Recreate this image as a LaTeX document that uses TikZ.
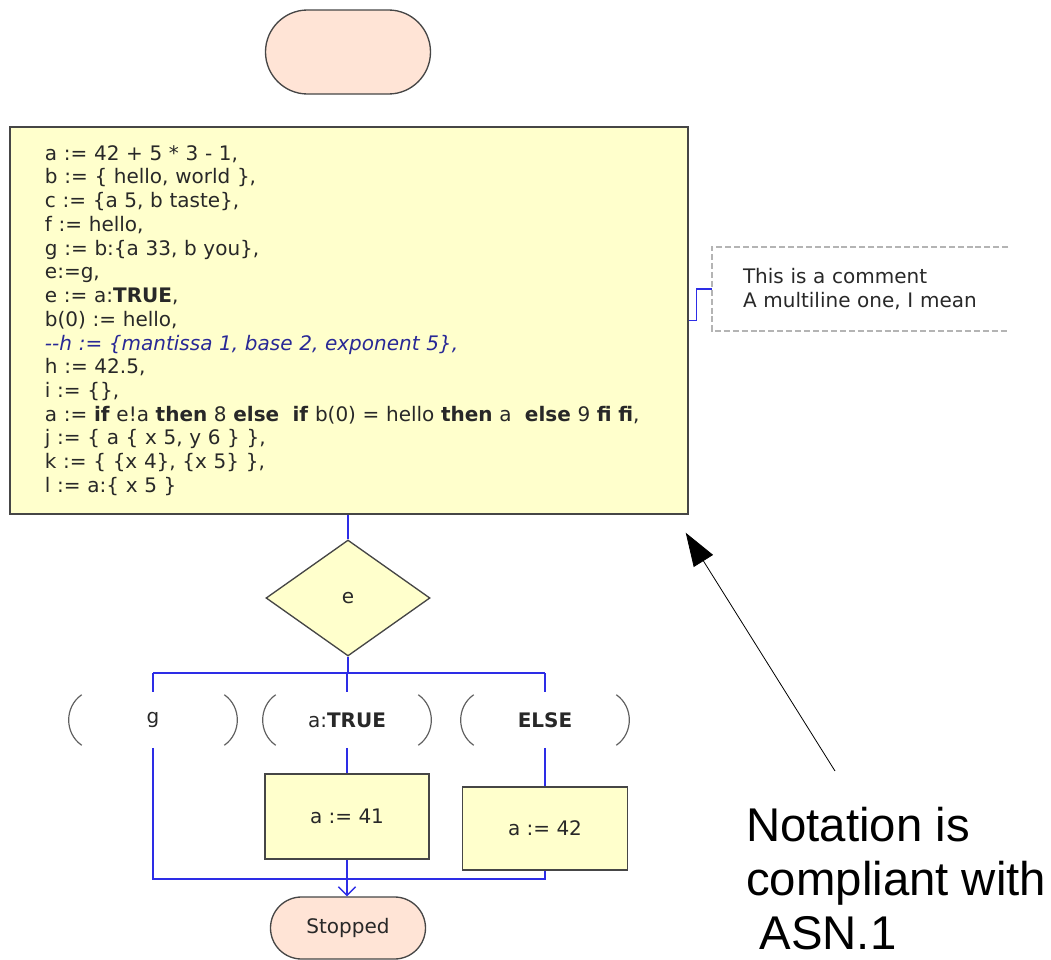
\documentclass[tikz,border=0pt]{standalone}
\usepackage{fontspec}
\setmainfont{DejaVu Sans}
\newfontfamily\notefont{Liberation Sans}
\usetikzlibrary{shapes.geometric,shapes.misc,arrows.meta}

% one unit = one screen pixel
\newlength\px
\setlength\px{0.75pt}

\definecolor{flowblue}{RGB}{45,45,230}
\definecolor{edgegray}{RGB}{70,70,70}
\definecolor{inkgray}{RGB}{40,40,40}
\definecolor{boxfill}{RGB}{255,255,204}
\definecolor{termfill}{RGB}{255,228,214}
\definecolor{remarkblue}{RGB}{40,40,150}
\definecolor{dashgray}{RGB}{180,180,180}

\begin{document}
\begin{tikzpicture}[x=\px, y=-\px, font=\fontsize{15}{17.8}\selectfont, text=inkgray,
    flow/.style={draw=flowblue, line width=1pt},
    terminal/.style={rounded rectangle, draw=edgegray, fill=termfill, line width=1pt, inner sep=0pt},
    task/.style={rectangle, draw=edgegray, fill=boxfill, line width=1.1pt, inner sep=0pt},
    decision/.style={diamond, draw=edgegray, fill=boxfill, line width=1pt, inner sep=0pt},
    answer/.style={minimum width=168\px, minimum height=50\px, inner sep=0pt},
    paren/.style={draw=gray!75!black, line width=0.9pt},
    remark/.style={draw=dashgray, line width=1.5pt, dash pattern=on 4.5pt off 2.2pt}]

        \useasboundingbox (0,0) rectangle (1051,960);

        % ==========================================
        % 1. Start e blocco di assegnazioni
        % ==========================================
        \node[terminal, minimum width=165\px, minimum height=84\px] (start) at (348,52) {};

        \node[task, minimum width=678\px, minimum height=387\px,
              text width=608\px, inner xsep=35\px, align=left] (init) at (349,320.5) {%
            a := 42 + 5 * 3 - 1,\\
            b := \{ hello, world \},\\
            c := \{a 5, b taste\},\\
            f := hello,\\
            g := b:\{a 33, b you\},\\
            e:=g,\\
            e := a:\textbf{TRUE},\\
            b(0) := hello,\\
            {\color{remarkblue}\itshape -{}-h := \{mantissa 1, base 2, exponent 5\},}\\
            h := 42.5,\\
            i := \{\},\\
            a := \textbf{if} e!a \textbf{then} 8 \textbf{else}\ \ \textbf{if} b(0) = hello \textbf{then} a\ \ \textbf{else} 9 \textbf{fi fi},\\
            j := \{ a \{ x 5, y 6 \} \},\\
            k := \{ \{x 4\}, \{x 5\} \},\\
            l := a:\{ x 5 \}};

        % ==========================================
        % 2. Commento
        % ==========================================
        \node[minimum width=296\px, minimum height=84\px, text width=234\px,
              inner xsep=31\px, inner ysep=0pt, align=left] (cmt) at (860,289)
            {This is a comment\\A multiline one, I mean};
        \draw[remark] (cmt.north east) -- (cmt.north west) -- (cmt.south west) -- (cmt.south east);
        \draw[flow] (init.east) -- ++(8,0) |- (cmt.west);

        % ==========================================
        % 3. Decisione e risposte
        % ==========================================
        \node[decision, minimum width=164\px, minimum height=116\px] (dec) at (348,598) {e};
        \coordinate (fork) at (348,673);

        \node[answer] (ansG) at (153,720) {g};
        \node[answer] (ansT) at (347,720) {a:\textbf{TRUE}};
        \node[answer] (ansE) at (545,720) {\textbf{ELSE}};

        % parentesi attorno a ogni risposta
        \foreach \a in {ansG,ansT,ansE} {
            \draw[paren] ([shift={(13,0)}]\a.north west)
                .. controls ([shift={(-4.4,12)}]\a.north west) and ([shift={(-4.4,-12)}]\a.south west)
                .. ([shift={(13,0)}]\a.south west);
            \draw[paren] ([shift={(-13,0)}]\a.north east)
                .. controls ([shift={(4.4,12)}]\a.north east) and ([shift={(4.4,-12)}]\a.south east)
                .. ([shift={(-13,0)}]\a.south east);
            \draw[flow, shorten >=2pt] (\a.north |- fork) -- (\a.north);
        }

        \draw[flow] (init.south -| dec.north) -- (dec.north);
        \draw[flow] (dec.south) -- (fork);
        \draw[flow] (ansG.north |- fork) -- (ansE.north |- fork);

        % ==========================================
        % 4. Assegnazioni dei rami e fine
        % ==========================================
        \node[task, minimum width=164\px, minimum height=85\px] (set41) at (347,816.5) {a := 41};
        \node[task, minimum width=165\px, minimum height=83\px] (set42) at (545,828.5) {a := 42};
        \node[terminal, minimum width=155\px, minimum height=62\px] (stop) at (348,928) {Stopped};
        \coordinate (join) at (347,879);

        \draw[flow, shorten <=2pt] (ansT.south) -- (set41.north);
        \draw[flow, shorten <=2pt] (ansE.south) -- (set42.north);
        \draw[flow, shorten <=2pt] (ansG.south) -- (ansG.south |- join) -- (set42.south |- join) -- (set42.south);
        \draw[flow] (set41.south) -- (join);
        \draw[flow, -{Straight Barb[length=6.5pt, width=13pt]}] (join) -- (join |- stop.north);

        % ==========================================
        % 5. Nota a margine
        % ==========================================
        \node[anchor=north west, inner sep=0pt, align=left, text=black,
              font=\notefont\fontsize{35.5}{40.5}\selectfont] (asn) at (746,807)
            {Notation is\\compliant with\\\hspace*{0.28em}ASN.1};
        \draw[line width=0.6pt, -{Triangle[length=25pt, width=17pt]}]
            ([shift={(89,-36)}]asn.north west) -- ([shift={(-3,18)}]init.south east);

    \end{tikzpicture}
\end{document}
